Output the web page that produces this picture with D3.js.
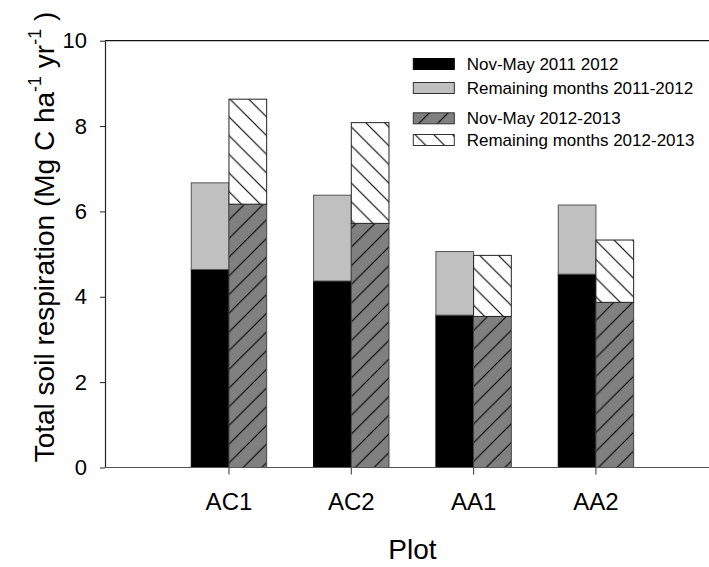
<!DOCTYPE html>
<html>
<head>
<meta charset="utf-8">
<script src="https://cdn.jsdelivr.net/npm/d3@7"></script>
<style>
  html, body { margin: 0; padding: 0; background: #fff; }
  svg { display: block; font-family: "Liberation Sans", Arial, sans-serif; }
</style>
</head>
<body>
<svg id="chart" width="709" height="567"></svg>
<script>
// Plots and seasonal respiration totals (Mg C ha-1 yr-1)
const plots = ["AC1", "AC2", "AA1", "AA2"];
const novMay1112 = [4.64, 4.37, 3.57, 4.53];
const remaining1112 = [2.03, 2.01, 1.49, 1.62];
const novMay1213 = [6.17, 5.72, 3.54, 3.87];
const remaining1213 = [2.46, 2.36, 1.43, 1.46];
const yTicks = [0, 2, 4, 6, 8, 10];

const legendLabels = [
  "Nov-May 2011 2012",
  "Remaining months 2011-2012",
  "Nov-May 2012-2013",
  "Remaining months 2012-2013"
];

const W = 709, H = 567;
const axisLeft = 105, plotTop = 40.7, plotBottom = 467.5;

const svg = d3.select("#chart");
const defs = svg.append("defs");

// Hatch fills
function hatch(id, bg, dir) {
  const s = 18.7;
  const p = defs.append("pattern")
    .attr("id", id)
    .attr("patternUnits", "userSpaceOnUse")
    .attr("width", s).attr("height", s);
  p.append("rect").attr("width", s).attr("height", s).attr("fill", bg);
  const path = dir === "fwd"
    ? `M0,${s} L${s},0 M${-s / 2},${s / 2} L${s / 2},${-s / 2} M${s / 2},${s * 1.5} L${s * 1.5},${s / 2}`
    : `M0,0 L${s},${s} M${-s / 2},${s / 2} L${s / 2},${s * 1.5} M${s / 2},${-s / 2} L${s * 1.5},${s / 2}`;
  p.append("path").attr("d", path).attr("stroke", "#000").attr("stroke-width", 1.1).attr("fill", "none");
}
hatch("hatchDark", "#808080", "fwd");
hatch("hatchWhite", "#ffffff", "back");

const fills = ["#000000", "#c0c0c0", "url(#hatchDark)", "url(#hatchWhite)"];

const x = d3.scaleBand().domain(plots).range([167.8, 657.1]).padding(0);
const y = d3.scaleLinear().domain([0, 10]).range([plotBottom, plotTop]);
const barW = 37.7;

// Build stacked segments for the two seasons of each plot
const segments = [];
plots.forEach((p, i) => {
  const c = x(p) + x.bandwidth() / 2;
  segments.push({ x0: c - barW, y0: 0, y1: novMay1112[i], fill: fills[0], stroke: "#000" });
  segments.push({ x0: c - barW, y0: novMay1112[i], y1: novMay1112[i] + remaining1112[i], fill: fills[1], stroke: "#555" });
  segments.push({ x0: c, y0: 0, y1: novMay1213[i], fill: fills[2], stroke: "#444" });
  segments.push({ x0: c, y0: novMay1213[i], y1: novMay1213[i] + remaining1213[i], fill: fills[3], stroke: "#222" });
});

svg.append("g").selectAll("rect").data(segments).join("rect")
  .attr("x", d => d.x0)
  .attr("y", d => y(d.y1))
  .attr("width", barW)
  .attr("height", d => y(d.y0) - y(d.y1))
  .attr("fill", d => d.fill)
  .attr("stroke", d => d.stroke)
  .attr("stroke-width", 1);

// Frame: top edge
svg.append("line")
  .attr("x1", axisLeft).attr("x2", W + 2)
  .attr("y1", plotTop).attr("y2", plotTop)
  .attr("stroke", "#111").attr("stroke-width", 1.2);

// Y axis
const yAxis = svg.append("g")
  .attr("transform", `translate(${axisLeft},0)`)
  .call(d3.axisLeft(y).tickValues(yTicks).tickSize(5).tickPadding(13).tickSizeOuter(0));
yAxis.select(".domain").attr("stroke", "#222").attr("stroke-width", 1.2);
yAxis.selectAll(".tick line").attr("stroke", "#222");
yAxis.selectAll("text").attr("font-size", 22).attr("fill", "#000")
  .attr("font-family", "'Liberation Sans', Arial, sans-serif");

// X axis
const xAxis = svg.append("g")
  .attr("transform", `translate(0,${plotBottom})`)
  .call(d3.axisBottom(x).tickSize(7).tickPadding(18).tickSizeOuter(0));
xAxis.select(".domain").remove();
xAxis.append("line").attr("x1", axisLeft).attr("x2", W + 2)
  .attr("stroke", "#555").attr("stroke-width", 1.2);
xAxis.selectAll(".tick line").attr("stroke", "#333");
xAxis.selectAll("text").attr("font-size", 24).attr("fill", "#000")
  .attr("font-family", "'Liberation Sans', Arial, sans-serif");

// Axis titles
svg.append("text")
  .attr("x", (x("AC1") + x("AA2") + x.bandwidth()) / 2)
  .attr("y", 559)
  .attr("text-anchor", "middle")
  .attr("font-size", 28)
  .text("Plot");

const yt = svg.append("text")
  .attr("transform", "translate(54,237) rotate(-90)")
  .attr("text-anchor", "middle")
  .attr("font-size", 28);
yt.append("tspan").text("Total soil respiration (Mg C ha");
yt.append("tspan").attr("font-size", 18).attr("dy", -13).text("-1");
yt.append("tspan").attr("dy", 13).text(" yr");
yt.append("tspan").attr("font-size", 18).attr("dy", -13).text("-1");
yt.append("tspan").attr("dy", 13).text(" )");

// Legend
const legendRows = [64, 88, 118.3, 140];
const lg = svg.append("g");
legendLabels.forEach((label, i) => {
  lg.append("rect")
    .attr("x", 413.3).attr("y", legendRows[i] - 5.5)
    .attr("width", 41).attr("height", 11)
    .attr("fill", fills[i])
    .attr("stroke", i === 0 ? "#000" : "#333").attr("stroke-width", 1);
  lg.append("text")
    .attr("x", 466.7).attr("y", legendRows[i])
    .attr("dy", "0.35em")
    .attr("font-size", 17)
    .text(label);
});
</script>
</body>
</html>
